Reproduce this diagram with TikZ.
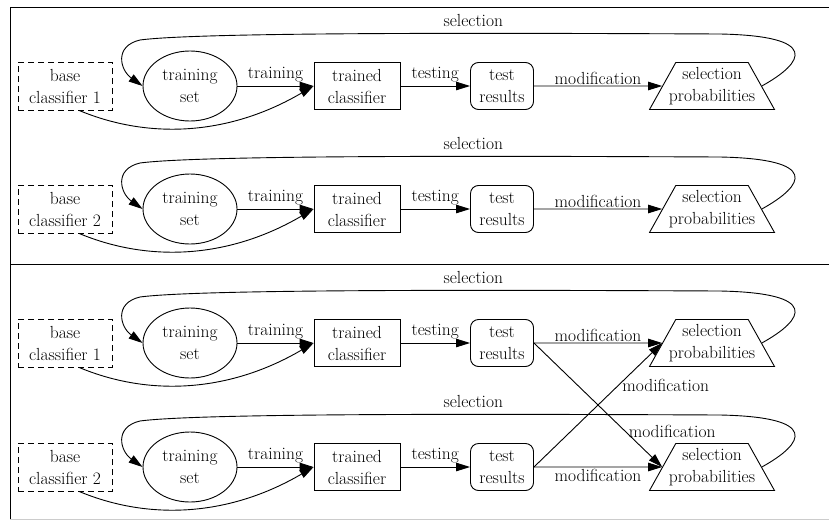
\documentclass[tikz,border=0pt]{standalone}
\usetikzlibrary{shapes.geometric,arrows.meta}

\begin{document}
\begin{tikzpicture}[x=1pt, y=-1pt, line width=0.9pt, >={Triangle[length=14pt,width=8.5pt]},
	every node/.style={font=\fontsize{17.5}{22}\selectfont, align=center},
	baseclf/.style={draw, dash pattern=on 6pt off 4pt, minimum width=94pt, minimum height=48pt, inner sep=2pt},
	trainset/.style={draw, ellipse, minimum width=94pt, minimum height=70pt, inner sep=1pt},
	trainedclf/.style={draw, rectangle, minimum width=86pt, minimum height=47pt, inner sep=2pt},
	testres/.style={draw, rectangle, rounded corners=8pt, minimum width=63pt, minimum height=47pt, inner sep=2pt},
	selprob/.style={draw, trapezium, trapezium left angle=60, trapezium right angle=60, trapezium stretches=true, minimum width=125pt, minimum height=47pt, inner xsep=-10pt, inner ysep=2pt}
	]
	\useasboundingbox (0,0) rectangle (829,522);
	\draw (829,7) -- (10,7) -- (10,519);
	\draw (10,264) -- (829,264);
	\draw[gray!40] (10,519) -- (829,519);
	
	\begin{scope}
		\node[baseclf] (base1) at (65,86) {base\\classifier 1};
		\node[trainset] (tset1) at (190,86) {training\\set};
		\node[trainedclf] (tcls1) at (357,86) {trained\\classifier};
		\node[testres] (tres1) at (502,86) {test\\results};
		\node[selprob] (sprob1) at (712,86) {selection\\probabilities};
		\draw[->] (tset1) -- node[above]{training} (tcls1);
		\draw[->] (tcls1) -- node[above]{testing} (tres1);
		\draw[->] (tres1) -- node[above=-2pt]{modification} (sprob1);
		\draw[->] (base1.-60) .. controls (150,140) and (230,135) .. (tcls1.west);
		\draw[->] (sprob1.right side) .. controls (805,62) and (820,36) .. (720,34) .. controls (500,33) and (200,32) .. node[pos=0.35,above=3pt]{selection} (140,40) .. controls (114,46) and (120,70) .. (tset1.west);
	\end{scope}
	
	\begin{scope}[shift={(0,123)}]
		\node[baseclf] (base2) at (65,86) {base\\classifier 2};
		\node[trainset] (tset2) at (190,86) {training\\set};
		\node[trainedclf] (tcls2) at (357,86) {trained\\classifier};
		\node[testres] (tres2) at (502,86) {test\\results};
		\node[selprob] (sprob2) at (712,86) {selection\\probabilities};
		\draw[->] (tset2) -- node[above]{training} (tcls2);
		\draw[->] (tcls2) -- node[above]{testing} (tres2);
		\draw[->] (tres2) -- node[above=-2pt]{modification} (sprob2);
		\draw[->] (base2.-60) .. controls (150,140) and (230,135) .. (tcls2.west);
		\draw[->] (sprob2.right side) .. controls (805,62) and (820,36) .. (720,34) .. controls (500,33) and (200,32) .. node[pos=0.35,above=3pt]{selection} (140,40) .. controls (114,46) and (120,70) .. (tset2.west);
	\end{scope}
	
	\begin{scope}[shift={(0,257)}]
		\node[baseclf] (base3) at (65,86) {base\\classifier 1};
		\node[trainset] (tset3) at (190,86) {training\\set};
		\node[trainedclf] (tcls3) at (357,86) {trained\\classifier};
		\node[testres] (tres3) at (502,86) {test\\results};
		\node[selprob] (sprob3) at (712,86) {selection\\probabilities};
		\draw[->] (tset3) -- node[above]{training} (tcls3);
		\draw[->] (tcls3) -- node[above]{testing} (tres3);
		\draw[->] (tres3) -- node[above=-2pt]{modification} (sprob3);
		\draw[->] (base3.-60) .. controls (150,140) and (230,135) .. (tcls3.west);
		\draw[->] (sprob3.right side) .. controls (805,62) and (820,36) .. (720,34) .. controls (500,33) and (200,32) .. node[pos=0.35,above=3pt]{selection} (140,40) .. controls (114,46) and (120,70) .. (tset3.west);
	\end{scope}
	
	\begin{scope}[shift={(0,381)}]
		\node[baseclf] (base4) at (65,86) {base\\classifier 2};
		\node[trainset] (tset4) at (190,86) {training\\set};
		\node[trainedclf] (tcls4) at (357,86) {trained\\classifier};
		\node[testres] (tres4) at (502,86) {test\\results};
		\node[selprob] (sprob4) at (712,86) {selection\\probabilities};
		\draw[->] (tset4) -- node[above]{training} (tcls4);
		\draw[->] (tcls4) -- node[above]{testing} (tres4);
		\draw[->] (tres4) -- node[below=-2pt]{modification} (sprob4);
		\draw[->] (base4.-60) .. controls (150,140) and (230,135) .. (tcls4.west);
		\draw[->] (sprob4.right side) .. controls (805,62) and (820,36) .. (720,34) .. controls (500,33) and (200,32) .. node[pos=0.35,above=3pt]{selection} (140,40) .. controls (114,46) and (120,70) .. (tset4.west);
	\end{scope}
	
	\draw[->] (tres3.east) -- node[pos=0.71,right]{modification} (sprob4.left side);
	\draw[->] (tres4.east) -- node[pos=0.66,right]{modification} (sprob3.left side);
\end{tikzpicture}
\end{document}
